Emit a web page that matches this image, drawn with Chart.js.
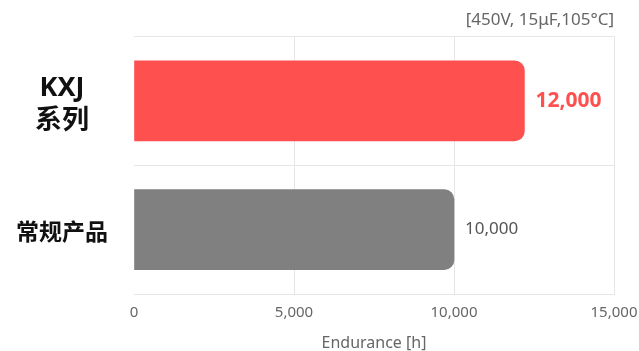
<!DOCTYPE html>
<html>
<head>
<meta charset="utf-8">
<script src="https://cdn.jsdelivr.net/npm/chart.js@4/dist/chart.umd.min.js"></script>
<style>
html,body{margin:0;padding:0;background:#fff;}
#wrap{width:639px;height:351px;position:relative;}
</style>
</head>
<body>
<div id="wrap"><canvas id="c" width="639" height="351"></canvas></div>
<script>
const categories = [["KXJ", "系列"], "常规产品"];
const barValues = [12200, 10000];
const valueLabels = ["12,000", "10,000"];
const barColors = ["#FF5050", "#808080"];
const labelColors = ["#FF5050", "#555555"];
const labelWeights = ["bold", "normal"];
const labelSizes = [21, 17];
const categorySizes = [27, 23];
const tickValues = [0, 5000, 10000, 15000];
const chartTitle = "[450V, 15μF,105°C]";
const axisTitle = "Endurance [h]";

const FONT = "'Noto Sans', 'Noto Sans CJK SC', sans-serif";

const valueLabelPlugin = {
  id: 'valueLabels',
  afterDatasetsDraw(chart) {
    const ctx = chart.ctx;
    const meta = chart.getDatasetMeta(0);
    meta.data.forEach((bar, i) => {
      ctx.save();
      ctx.font = labelWeights[i] + ' ' + labelSizes[i] + 'px ' + FONT;
      ctx.fillStyle = labelColors[i];
      ctx.textAlign = 'left';
      ctx.textBaseline = 'middle';
      ctx.fillText(valueLabels[i], bar.x + 11, bar.y);
      ctx.restore();
    });
  }
};

new Chart(document.getElementById('c'), {
  type: 'bar',
  data: {
    labels: categories,
    datasets: [{
      data: barValues,
      backgroundColor: barColors,
      borderRadius: {topLeft: 0, bottomLeft: 0, topRight: 10, bottomRight: 10},
      borderSkipped: 'start',
      barThickness: 80
    }]
  },
  options: {
    indexAxis: 'y',
    responsive: false,
    animation: false,
    devicePixelRatio: 1,
    layout: {padding: {left: 0, right: 25, top: 0, bottom: 0}},
    plugins: {
      legend: {display: false},
      tooltip: {enabled: false},
      title: {
        display: true,
        text: chartTitle,
        align: 'end',
        color: '#666666',
        font: {family: FONT, size: 17, weight: 'normal', lineHeight: 1.2},
        padding: {top: 10, bottom: 6}
      }
    },
    scales: {
      x: {
        min: 0,
        max: 15000,
        afterBuildTicks(axis) { axis.ticks = tickValues.map(v => ({value: v})); },
        afterFit(axis) { axis.paddingRight = 0; axis.paddingLeft = 0; axis.height = 57; },
        grid: {
          color: (c) => c.index === 0 ? 'rgba(0,0,0,0)' : '#e6e6e6',
          drawTicks: false
        },
        border: {display: true, color: '#e6e6e6'},
        ticks: {
          color: '#666666',
          font: {family: FONT, size: 15},
          padding: 10,
          maxRotation: 0,
          callback: (v) => Number(v).toLocaleString('en-US')
        },
        title: {
          display: true,
          text: axisTitle,
          color: '#666666',
          font: {family: FONT, size: 16, lineHeight: 1.0},
          padding: {top: 13, bottom: 0}
        }
      },
      y: {
        grid: {color: '#e6e6e6', drawTicks: false, offset: true},
        border: {display: false},
        afterFit(axis) { axis.width = 134; axis.paddingTop = 0; axis.paddingBottom = 0; },
        ticks: {
          color: '#111111',
          font: (c) => ({family: FONT, size: categorySizes[c.index], weight: 'bold', lineHeight: 1.2}),
          crossAlign: 'center',
          padding: 26,
          labelOffset: 4
        }
      }
    }
  },
  plugins: [valueLabelPlugin]
});
</script>
</body>
</html>
